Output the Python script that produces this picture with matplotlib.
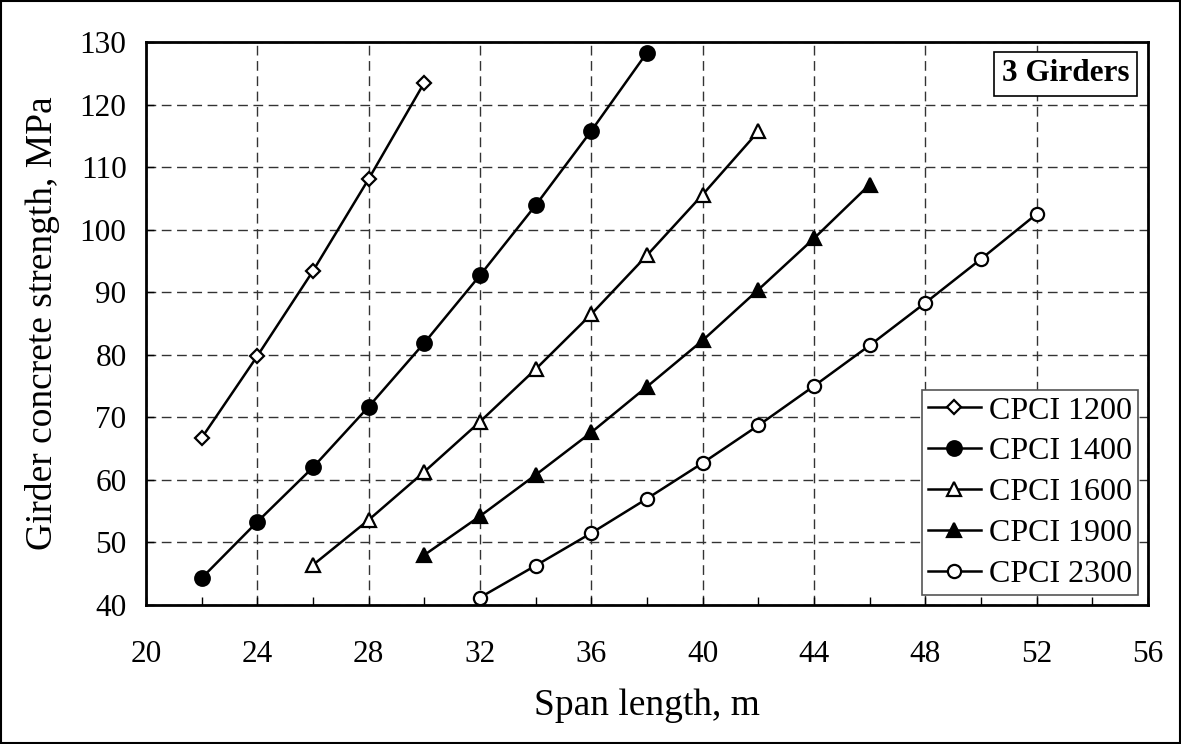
import numpy as np
import matplotlib.pyplot as plt
from matplotlib.patches import Rectangle

plt.rcParams['font.family'] = ['Liberation Serif', 'DejaVu Serif']

# span lengths (m) and girder concrete strength (MPa)
x_1200 = [22, 24, 26, 28, 30]
y_1200 = [66.7, 79.8, 93.4, 108.1, 123.5]
x_1400 = [22, 24, 26, 28, 30, 32, 34, 36, 38]
y_1400 = [44.3, 53.3, 62.0, 71.7, 81.9, 92.7, 103.9, 115.8, 128.3]
x_1600 = [26, 28, 30, 32, 34, 36, 38, 40, 42]
y_1600 = [46.4, 53.6, 61.3, 69.3, 77.7, 86.5, 95.9, 105.6, 115.7]
x_1900 = [30, 32, 34, 36, 38, 40, 42, 44, 46]
y_1900 = [48.0, 54.2, 60.8, 67.6, 74.9, 82.3, 90.4, 98.6, 107.2]
x_2300 = [32, 34, 36, 38, 40, 42, 44, 46, 48, 50, 52]
y_2300 = [41.2, 46.3, 51.5, 57.0, 62.7, 68.7, 75.0, 81.5, 88.3, 95.3, 102.5]

labels = ['CPCI 1200', 'CPCI 1400', 'CPCI 1600', 'CPCI 1900', 'CPCI 2300']
x_ticks = list(range(20, 57, 4))
y_ticks = list(range(40, 131, 10))

fig = plt.figure(figsize=(11.81, 7.44), dpi=100)
ax = fig.add_axes([0.1236, 0.1868, 0.8484, 0.7567])

series = [
    (x_1200, y_1200, 'D', 'white', 7),
    (x_1400, y_1400, 'o', 'black', 10.5),
    (x_1600, y_1600, '^', 'white', 10),
    (x_1900, y_1900, '^', 'black', 10),
    (x_2300, y_2300, 'o', 'white', 9.5),
]
for (xs, ys, m, fc, ms), lab in zip(series, labels):
    ax.plot(xs, ys, color='black', lw=1.8, marker=m, markerfacecolor=fc,
            markeredgecolor='black', markeredgewidth=1.6, markersize=ms, label=lab)

ax.set_xlim(20, 56)
ax.set_ylim(40, 130)
ax.set_xticks(x_ticks)
ax.set_xticks(list(range(20, 57, 2)), minor=True)
ax.set_yticks(y_ticks)
ax.tick_params(axis='both', which='both', direction='in', labelsize=22.5, width=1, length=6)
ax.tick_params(axis='x', which='both', pad=25)
ax.tick_params(axis='y', which='both', pad=14)
ax.grid(True, which='major', color='#333333', linestyle=(0, (7, 4)), linewidth=1)
for sp in ax.spines.values():
    sp.set_linewidth(2)

ax.set_xlabel('Span length, m', fontsize=27, labelpad=14)
ax.set_ylabel('Girder concrete strength, MPa', fontsize=27, labelpad=14)

leg = ax.legend(loc='lower right', fontsize=23, frameon=True, fancybox=False,
                edgecolor='#555555', framealpha=1, borderpad=0.2, labelspacing=0.36,
                handlelength=1.65, handletextpad=0.25, borderaxespad=0.3)
leg.get_frame().set_linewidth(1.2)

ax.text(0.9815, 0.969, '3 Girders', transform=ax.transAxes, ha='right', va='top',
        fontsize=22.5, fontweight='bold',
        bbox=dict(boxstyle='square,pad=0.25', facecolor='white', edgecolor='black', linewidth=1.2))

fig.patches.append(Rectangle((0.001, 0.001), 0.998, 0.998, transform=fig.transFigure,
                             fill=False, edgecolor='black', linewidth=1.5))

fig.savefig('out.png', dpi=100)
